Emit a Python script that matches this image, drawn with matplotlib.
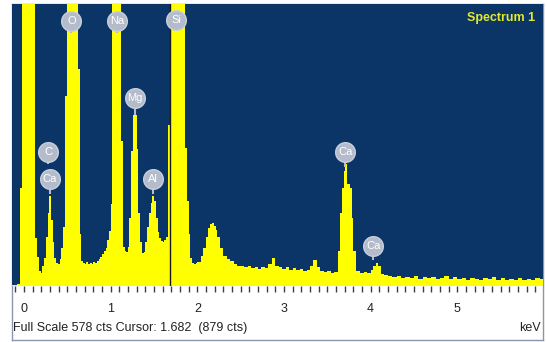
import matplotlib
matplotlib.use("Agg")
import matplotlib.pyplot as plt
import numpy as np

plt.rcParams['font.family'] = ['Liberation Sans', 'DejaVu Sans']

# Spectrum (keV, counts); step starts at each energy
energy = [-0.14, -0.08, -0.045, -0.025, 0.125, 0.15, 0.17, 0.19, 0.21, 0.23,
          0.25, 0.27, 0.29, 0.31, 0.33, 0.35, 0.37, 0.39, 0.41, 0.43,
          0.45, 0.47, 0.495, 0.625, 0.64, 0.66, 0.68, 0.70, 0.72, 0.74,
          0.76, 0.78, 0.80, 0.82, 0.84, 0.86, 0.88, 0.90, 0.92, 0.94,
          0.96, 0.98, 1.00, 1.015, 1.12, 1.145, 1.16, 1.18, 1.20, 1.215,
          1.23, 1.26, 1.305, 1.32, 1.34, 1.36, 1.38, 1.40, 1.42, 1.44,
          1.46, 1.48, 1.50, 1.52, 1.54, 1.56, 1.58, 1.60, 1.62, 1.64,
          1.665, 1.685, 1.86, 1.885, 1.90, 1.92, 1.94, 1.96, 1.98, 2.00,
          2.04, 2.07, 2.10, 2.125, 2.15, 2.17, 2.19, 2.21, 2.23, 2.26,
          2.30, 2.34, 2.38, 2.42, 2.46, 2.50, 2.54, 2.58, 2.62, 2.66,
          2.70, 2.74, 2.78, 2.82, 2.86, 2.90, 2.94, 2.98, 3.02, 3.06,
          3.10, 3.14, 3.18, 3.22, 3.26, 3.30, 3.34, 3.38, 3.42, 3.46,
          3.50, 3.54, 3.58, 3.62, 3.65, 3.67, 3.69, 3.71, 3.73, 3.76,
          3.78, 3.80, 3.83, 3.88, 3.92, 3.96, 4.00, 4.03, 4.06, 4.09,
          4.12, 4.16, 4.20, 4.25, 4.30, 4.35, 4.40, 4.45, 4.50, 4.55,
          4.60, 4.65, 4.70, 4.75, 4.80, 4.85, 4.90, 4.95, 5.00, 5.05,
          5.10, 5.15, 5.20, 5.25, 5.30, 5.35, 5.40, 5.45, 5.50, 5.55,
          5.60, 5.65, 5.70, 5.75, 5.80, 5.85, 5.90, 5.95, 5.99]
counts = [3, 5, 200, 900, 98, 60, 30, 27, 40, 58,
          100, 150, 185, 135, 90, 58, 47, 45, 55, 78,
          120, 390, 900, 445, 107, 52, 48, 46, 49, 45,
          48, 46, 50, 47, 52, 55, 60, 66, 72, 78,
          95, 113, 168, 900, 297, 80, 72, 70, 80, 140,
          277, 350, 280, 150, 90, 68, 70, 90, 120, 150,
          170, 185, 175, 140, 110, 98, 92, 90, 94, 100,
          330, 900, 283, 175, 107, 57, 48, 46, 47, 50,
          62, 78, 100, 119, 127, 129, 122, 115, 100, 78,
          62, 55, 51, 45, 42, 40, 38, 41, 37, 39,
          35, 38, 36, 45, 57, 42, 38, 35, 38, 33,
          36, 32, 35, 30, 33, 42, 53, 38, 30, 28,
          31, 27, 29, 72, 150, 201, 236, 250, 210, 201,
          140, 72, 31, 27, 29, 27, 33, 42, 47, 40,
          25, 22, 20, 18, 21, 17, 19, 16, 20, 15,
          18, 16, 19, 14, 17, 20, 15, 18, 14, 16,
          13, 17, 15, 12, 16, 14, 18, 13, 16, 12,
          15, 13, 17, 12, 15, 13, 16, 14, 14]

# Element markers: label, keV, counts
marker_labels = ['O', 'Na', 'Si', 'Mg', 'C', 'Ca', 'Al', 'Ca', 'Ca']
marker_kev = [0.545, 1.075, 1.755, 1.28, 0.28, 0.295, 1.49, 3.705, 4.03]
marker_cts = [543, 543, 546, 385, 274, 219, 219, 274, 81]
stick_cts = [520, 520, 524, 352, 252, 190, 190, 245, 56]

cursor_kev = 1.682
full_scale = 578
xticks = [0, 1, 2, 3, 4, 5]

W, H = 547, 342
fig = plt.figure(figsize=(W / 100, H / 100), dpi=100)
fig.patch.set_facecolor('white')

# outer frame (white lower panel with border)
bg = fig.add_axes([12 / W, 2 / H, 531 / W, 336 / H], zorder=-1)
bg.set_facecolor('white')
bg.set_xticks([])
bg.set_yticks([])
for s in bg.spines.values():
    s.set_color('#8a96ad')
    s.set_linewidth(1.0)

ax = fig.add_axes([12 / W, 56 / H, 531 / W, 282 / H], zorder=1)
navy = '#0b3467'
ax.set_facecolor(navy)
ax.fill_between(energy, counts, 0, step='post', color='#ffff00', lw=0, zorder=2)
ax.set_xlim(-0.14, 5.99)
ax.set_ylim(0, full_scale)

ax.axvline(cursor_kev, color='#1a1a1a', lw=1.0, zorder=3)

for lab, kx, ky, sy in zip(marker_labels, marker_kev, marker_cts, stick_cts):
    ax.plot([kx, kx], [ky, sy], color='#b4bccc', lw=1.5, zorder=4)
    ax.scatter([kx], [ky], s=200, color='#b4bccc', edgecolors='#c8cfdc',
               linewidths=1.0, zorder=5)
    ax.text(kx, ky, lab, color='white', fontsize=8, ha='center', va='center',
            zorder=6)

ax.text(0.985, 0.95, 'Spectrum 1', transform=ax.transAxes, ha='right',
        va='center', color='#e2e82a', fontsize=9, fontweight='bold')

ax.set_yticks([])
ax.set_xticks(xticks)
ax.set_xticks(np.arange(-0.1, 6.0, 0.1), minor=True)
ax.tick_params(axis='x', which='both', direction='out', length=4,
               color='#404040', width=1.0, labelsize=9, pad=8,
               labelcolor='#222222')
for s in ax.spines.values():
    s.set_visible(False)

fig.text(13 / W, 1 - 328 / H, 'Full Scale 578 cts Cursor: 1.682  (879 cts)',
         fontsize=9, color='#222222', ha='left', va='center')
fig.text(541 / W, 1 - 328 / H, 'keV', fontsize=9, color='#222222',
         ha='right', va='center')

fig.savefig('out.png', dpi=100, facecolor='white')
